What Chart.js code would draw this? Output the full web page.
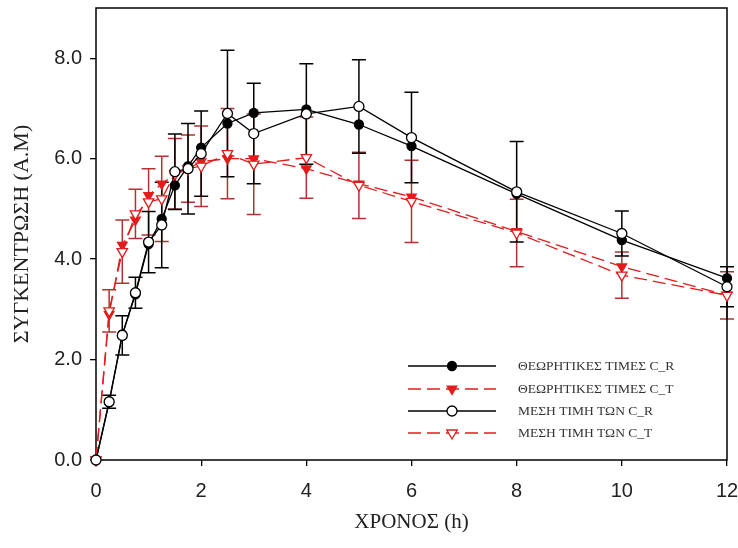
<!DOCTYPE html>
<html>
<head>
<meta charset="utf-8">
<script src="https://cdn.jsdelivr.net/npm/chart.js@4/dist/chart.umd.min.js"></script>
<style>
html,body{margin:0;padding:0;background:#fff;}
#wrap{width:738px;height:548px;position:relative;}
</style>
</head>
<body>
<div id="wrap"><canvas id="c" width="738" height="548"></canvas></div>
<script>
// ---- data ----
const times = [0, 0.25, 0.5, 0.75, 1, 1.25, 1.5, 1.75, 2, 2.5, 3, 4, 5, 6, 8, 10, 12];
const theoR = [0, 1.15, 2.5, 3.3, 4.3, 4.8, 5.47, 5.85, 6.22, 6.7, 6.91, 6.98, 6.68, 6.25, 5.3, 4.38, 3.62];
const theoT = [0, 2.9, 4.28, 4.78, 5.27, 5.5, 5.68, 5.8, 5.94, 6.0, 6.0, 5.8, 5.5, 5.24, 4.55, 3.85, 3.28];
const meanR = [0, 1.16, 2.48, 3.33, 4.34, 4.68, 5.74, 5.8, 6.1, 6.9, 6.5, 6.89, 7.04, 6.42, 5.34, 4.51, 3.45];
const errR  = [0, 0.13, 0.39, 0.31, 0.61, 0.85, 0.75, 0.9, 0.85, 1.26, 1.0, 1.0, 0.93, 0.9, 1.0, 0.45, 0.4];
const meanT = [0, 2.97, 4.15, 4.9, 5.14, 5.2, 5.7, 5.8, 5.85, 6.1, 5.89, 6.02, 5.47, 5.15, 4.52, 3.68, 3.28];
const errT  = [0, 0.42, 0.63, 0.49, 0.66, 0.85, 0.7, 0.67, 0.8, 0.9, 1.0, 0.81, 0.66, 0.82, 0.67, 0.46, 0.47];
const seriesNames = ['ΘΕΩΡΗΤΙΚΕΣ ΤΙΜΕΣ C_R', 'ΘΕΩΡΗΤΙΚΕΣ ΤΙΜΕΣ C_T', 'ΜΕΣΗ ΤΙΜΗ ΤΩΝ C_R', 'ΜΕΣΗ ΤΙΜΗ ΤΩΝ C_T'];
const xTicks = [0, 2, 4, 6, 8, 10, 12];
const yTicks = [0, 2, 4, 6, 8];
const xTitle = 'ΧΡΟΝΟΣ (h)';
const yTitle = 'ΣΥΓΚΕΝΤΡΩΣΗ (Α.Μ)';

const RED = '#e31b1b';
const ERR_RED = '#b03434';
const pts = arr => times.map((t, i) => ({x: t, y: arr[i]}));

const styles = [
  {borderColor:'#000', pointStyle:'circle', pointRadius:4.5, pointBorderColor:'#000', pointBackgroundColor:'#000', borderDash:[], rotation:0},
  {borderColor:RED, pointStyle:'triangle', pointRadius:5.5, pointBorderColor:RED, pointBackgroundColor:RED, borderDash:[13,6], rotation:180},
  {borderColor:'#000', pointStyle:'circle', pointRadius:5, pointBorderColor:'#000', pointBackgroundColor:'#fff', borderDash:[], rotation:0},
  {borderColor:RED, pointStyle:'triangle', pointRadius:6, pointBorderColor:RED, pointBackgroundColor:'#fff', borderDash:[13,6], rotation:180}
];
const seriesData = [theoR, theoT, meanR, meanT];
const orders = [3, 4, 1, 2];

const datasets = seriesData.map((d, i) => ({
  label: seriesNames[i],
  data: pts(d),
  borderColor: styles[i].borderColor,
  backgroundColor: styles[i].pointBackgroundColor,
  borderWidth: 1.3,
  borderDash: styles[i].borderDash,
  pointStyle: styles[i].pointStyle,
  pointRadius: styles[i].pointRadius,
  pointBorderColor: styles[i].pointBorderColor,
  pointBackgroundColor: styles[i].pointBackgroundColor,
  pointBorderWidth: 1.3,
  pointRotation: styles[i].rotation,
  tension: 0,
  clip: false,
  order: orders[i]
}));

// error bars drawn beneath lines/markers
const errorBars = {
  id: 'errorBars',
  beforeDatasetsDraw(chart) {
    const ctx = chart.ctx, xs = chart.scales.x, ys = chart.scales.y;
    const sets = [{m: meanT, e: errT, c: ERR_RED}, {m: meanR, e: errR, c: '#000'}];
    ctx.save();
    ctx.lineWidth = 1.5;
    sets.forEach(s => {
      ctx.strokeStyle = s.c;
      times.forEach((t, i) => {
        if (!s.e[i]) return;
        const px = xs.getPixelForValue(t);
        const top = ys.getPixelForValue(s.m[i] + s.e[i]);
        const bot = ys.getPixelForValue(s.m[i] - s.e[i]);
        ctx.beginPath();
        ctx.moveTo(px, top); ctx.lineTo(px, bot);
        ctx.moveTo(px - 7, top); ctx.lineTo(px + 7, top);
        ctx.moveTo(px - 7, bot); ctx.lineTo(px + 7, bot);
        ctx.stroke();
      });
    });
    ctx.restore();
  }
};

// frame around plot
const frame = {
  id: 'frame',
  beforeDatasetsDraw(chart) {
    const a = chart.chartArea, ctx = chart.ctx;
    ctx.save();
    ctx.strokeStyle = '#000';
    ctx.lineWidth = 1.5;
    ctx.strokeRect(a.left, a.top, a.right - a.left, a.bottom - a.top);
    ctx.restore();
  }
};

// legend inside plot
const insideLegend = {
  id: 'insideLegend',
  afterDatasetsDraw(chart) {
    const ctx = chart.ctx;
    const rowsY = [366, 389, 411, 433];
    const x0 = 408, x1 = 496, xm = 452, xt = 518;
    ctx.save();
    rowsY.forEach((y, i) => {
      const s = styles[i];
      ctx.strokeStyle = s.borderColor;
      ctx.lineWidth = 1.3;
      ctx.setLineDash(s.borderDash);
      ctx.beginPath(); ctx.moveTo(x0, y); ctx.lineTo(x1, y); ctx.stroke();
      ctx.setLineDash([]);
      ctx.fillStyle = s.pointBackgroundColor;
      ctx.strokeStyle = s.pointBorderColor;
      Chart.helpers.drawPoint(ctx, {pointStyle: s.pointStyle, radius: s.pointRadius, rotation: s.rotation, borderWidth: 1.3}, xm, y);
      ctx.fillStyle = '#333';
      ctx.font = '13.5px "Liberation Serif", "Times New Roman", serif';
      ctx.textBaseline = 'middle';
      ctx.textAlign = 'left';
      ctx.fillText(seriesNames[i], xt, y);
    });
    ctx.restore();
  }
};

new Chart(document.getElementById('c'), {
  type: 'line',
  data: {datasets},
  options: {
    responsive: false,
    animation: false,
    events: [],
    layout: {padding: {top: 8, right: 11, left: 0, bottom: 0}},
    plugins: {legend: {display: false}, tooltip: {enabled: false}},
    scales: {
      x: {
        type: 'linear', min: 0, max: 12,
        afterBuildTicks: s => { s.ticks = xTicks.map(v => ({value: v})); },
        afterFit: s => { s.height = 88; s.paddingLeft = 0; s.paddingRight = 0; },
        grid: {display: true, drawOnChartArea: false, drawTicks: true, tickLength: 6, color: '#000', lineWidth: 1.3},
        border: {display: false},
        ticks: {padding: 13, color: '#222', font: {family: '"Liberation Sans", Arial, sans-serif', size: 20}, callback: v => String(v)},
        title: {display: true, text: xTitle, color: '#222', padding: {top: 0, bottom: 13}, font: {family: '"Liberation Serif", "Times New Roman", serif', size: 21}}
      },
      y: {
        type: 'linear', min: 0, max: 9,
        afterBuildTicks: s => { s.ticks = yTicks.map(v => ({value: v})); },
        afterFit: s => { s.width = 96; s.paddingTop = 0; s.paddingBottom = 0; },
        grid: {display: true, drawOnChartArea: false, drawTicks: true, tickLength: 6, color: '#000', lineWidth: 1.3},
        border: {display: false},
        ticks: {padding: 8, color: '#222', font: {family: '"Liberation Sans", Arial, sans-serif', size: 20}, callback: v => v.toFixed(1)},
        title: {display: true, text: yTitle, color: '#222', padding: {top: 9, bottom: 0}, font: {family: '"Liberation Serif", "Times New Roman", serif', size: 22}}
      }
    }
  },
  plugins: [errorBars, frame, insideLegend]
});
</script>
</body>
</html>
